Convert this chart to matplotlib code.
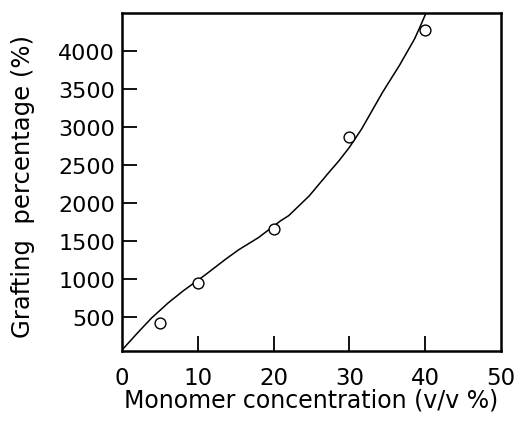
import matplotlib
matplotlib.use("Agg")
import matplotlib.pyplot as plt

# Measured grafting percentage at each monomer concentration
concentration = [5, 10, 20, 30, 40]
grafting = [410, 940, 1650, 2860, 4270]

# Hand-drawn trend curve through the measurements
curve_x = [0.2, 2.2, 3.9, 6.1, 8.1, 11.0, 13.6, 15.4, 18.0, 20.9, 22.0,
           24.7, 27.3, 28.6, 30.0, 31.6, 34.4, 36.6, 38.6, 39.5, 40.1]
curve_y = [80, 300, 480, 680, 840, 1050, 1250, 1380, 1540, 1760, 1830,
           2090, 2400, 2550, 2730, 2970, 3460, 3810, 4160, 4360, 4500]

x_ticks = [10, 20, 30, 40]
x_ticklabels = ["0", "10", "20", "30", "40", "50"]
y_ticks = [500, 1000, 1500, 2000, 2500, 3000, 3500, 4000]

plt.rcParams["font.family"] = ["DejaVu Sans"]

fig = plt.figure(figsize=(5.2, 4.27), dpi=100)
ax = fig.add_axes([0.2346, 0.1756, 0.7289, 0.7915])

ax.plot(curve_x, curve_y, color="black", lw=1.1, zorder=2)
ax.plot(concentration, grafting, linestyle="none", marker="o", ms=7.8,
        mfc="white", mec="black", mew=1.0, zorder=3)

ax.set_xlim(0, 50)
ax.set_ylim(45, 4500)

ax.set_xticks(x_ticks)
ax.set_xticklabels([])
ax.set_yticks(y_ticks)
ax.set_yticklabels([str(v) for v in y_ticks], fontsize=16)
ax.tick_params(axis="both", direction="in", length=11, width=1.3, pad=5)

# x labels include both axis ends, which carry no tick marks
for i, lab in enumerate(x_ticklabels):
    ax.text(i * 10, -0.079, lab, transform=ax.get_xaxis_transform(),
            ha="center", va="center", fontsize=16.5)

for s in ax.spines.values():
    s.set_linewidth(1.8)

ax.text(0.5, -0.142, "Monomer concentration (v/v %)", transform=ax.transAxes,
        ha="center", va="center", fontsize=17)
ax.text(-0.261, 0.49, "Grafting  percentage (%)", transform=ax.transAxes,
        ha="center", va="center", rotation=90, fontsize=17.5)

fig.savefig("out.png", dpi=100)
